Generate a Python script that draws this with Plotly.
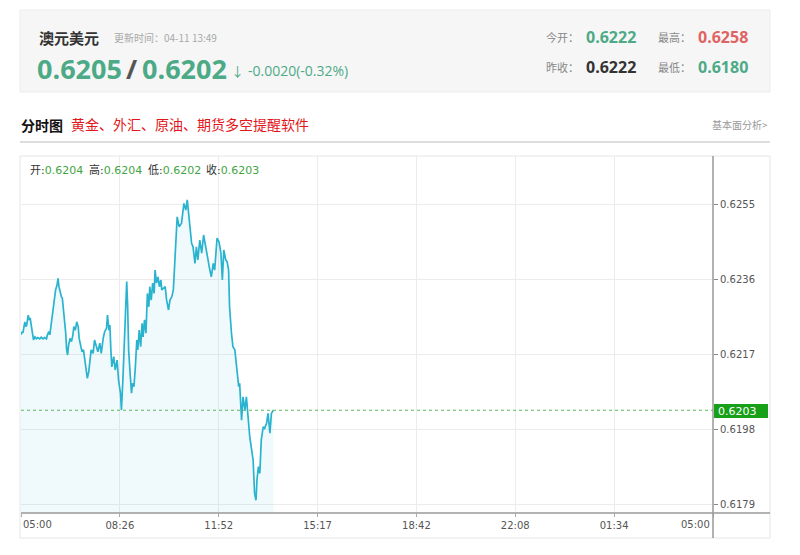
import plotly.graph_objects as go

# ---------------- data ----------------
date0 = "2025-04-11"
date1 = "2025-04-12"
times = ["05:00","05:02","05:04","05:08","05:10","05:12","05:15","05:17","05:19","05:21",
         "05:24","05:26","05:29","05:32","05:35","05:39","05:42","05:46","05:49","05:53",
         "05:55","05:58","06:00","06:03","06:05","06:07","06:10","06:12","06:15","06:17",
         "06:19","06:21","06:24","06:26","06:29","06:31","06:33","06:35","06:37","06:39",
         "06:42","06:45","06:48","06:50","06:53","06:56","06:59","07:01","07:04","07:07",
         "07:10","07:13","07:15","07:18","07:21","07:23","07:26","07:30","07:33","07:37",
         "07:40","07:44","07:47","07:51","07:54","07:58","08:00","08:03","08:05","08:07",
         "08:09","08:13","08:16","08:20","08:23","08:27","08:29","08:32","08:34","08:37",
         "08:40","08:42","08:44","08:47","08:50","08:52","08:55","08:58","09:01","09:03",
         "09:06","09:09","09:12","09:14","09:17","09:20","09:23","09:26","09:28","09:31",
         "09:34","09:37","09:39","09:42","09:45","09:48","09:51","09:53","10:00","10:03",
         "10:07","10:10","10:14","10:17","10:21","10:23","10:25","10:29","10:34","10:39",
         "10:43","10:46","10:50","10:55","10:58","11:02","11:05","11:08","11:12","11:16",
         "11:20","11:25","11:29","11:33","11:36","11:40","11:43","11:48","11:52","11:56",
         "11:59","12:02","12:06","12:09","12:12","12:14","12:18","12:21","12:25","12:30",
         "12:33","12:35","12:39","12:42","12:46","12:49","12:53","12:56","13:00","13:03",
         "13:06","13:09","13:11","13:14","13:17","13:20","13:24","13:27","13:31","13:34",
         "13:38","13:41","13:45"]
prices = [0.62221,0.62229,0.62226,0.62254,0.62242,0.62246,0.62271,0.62259,0.62264,0.62246,
          0.62229,0.62208,0.62216,0.62211,0.62214,0.62211,0.62215,0.62211,0.62214,0.62211,
          0.62221,0.62229,0.62221,0.62251,0.62267,0.62284,0.62318,0.62335,0.62347,0.62364,
          0.62343,0.62330,0.62318,0.62314,0.62280,0.62263,0.62226,0.62183,0.62170,0.62195,
          0.62212,0.62204,0.62221,0.62242,0.62233,0.62254,0.62242,0.62212,0.62195,0.62178,
          0.62183,0.62157,0.62140,0.62111,0.62128,0.62157,0.62183,0.62174,0.62208,0.62191,
          0.62178,0.62200,0.62174,0.62212,0.62229,0.62238,0.62271,0.62233,0.62246,0.62183,
          0.62140,0.62166,0.62132,0.62157,0.62107,0.62073,0.62031,0.62107,0.62183,0.62267,
          0.62356,0.62292,0.62183,0.62124,0.62073,0.62098,0.62090,0.62140,0.62208,0.62183,
          0.62233,0.62191,0.62250,0.62216,0.62259,0.62225,0.62326,0.62292,0.62343,0.62309,
          0.62352,0.62326,0.62385,0.62352,0.62368,0.62343,0.62360,0.62335,0.62343,0.62309,
          0.62284,0.62309,0.62318,0.62335,0.62444,0.62487,0.62520,0.62495,0.62504,0.62554,
          0.62537,0.62563,0.62504,0.62453,0.62444,0.62402,0.62444,0.62411,0.62461,0.62428,
          0.62474,0.62436,0.62411,0.62385,0.62368,0.62402,0.62385,0.62466,0.62457,0.62428,
          0.62360,0.62436,0.62411,0.62406,0.62385,0.62292,0.62225,0.62191,0.62183,0.62124,
          0.62090,0.62098,0.62005,0.62064,0.62031,0.62064,0.62005,0.61963,0.61929,0.61904,
          0.61820,0.61802,0.61853,0.61887,0.61870,0.61955,0.61988,0.61984,0.61997,0.62022,
          0.61972,0.62022,0.62030]

y_ticks = [0.6179, 0.6198, 0.6217, 0.6236, 0.6255]
y_ticktext = ["0.6179", "0.6198", "0.6217", "0.6236", "0.6255"]
x_tickvals = [date0 + " 05:00:00", date0 + " 08:25:43", date0 + " 11:51:26", date0 + " 15:17:09",
              date0 + " 18:42:51", date0 + " 22:08:34", date1 + " 01:34:17", date1 + " 05:00:00"]
x_ticktext = ["05:00", "08:26", "11:52", "15:17", "18:42", "22:08", "01:34", "05:00"]
y_range = [0.617697, 0.626741]

last_price = 0.6203
ohlc_labels = ["开:", "高:", "低:", "收:"]
ohlc_values = ["0.6204", "0.6204", "0.6202", "0.6203"]

name = "澳元美元"
update_time = "更新时间：04-11 13:49"
bid, ask = "0.6205", "0.6202"
change_text = "-0.0020(-0.32%)"
open_today, prev_close, high, low = "0.6222", "0.6222", "0.6258", "0.6180"

# ---------------- styling helpers (pixel -> paper) ----------------
L, R, T, B = 21, 713, 156, 513
def X(px):
    return (px - L) / (R - L)
def Y(py):
    return (B - py) / (B - T)

GREEN = "#4daa86"
CJK = "Noto Sans CJK SC"
NUM = "Open Sans, Noto Sans CJK SC"

x_full = [date0 + " " + t for t in times]

fig = go.Figure()
fig.add_trace(go.Scatter(
    x=x_full, y=prices, mode="lines",
    line=dict(color="#2ab3cf", width=1.7),
    fill="tozeroy", fillcolor="rgba(42,179,207,0.07)",
    hoverinfo="skip", showlegend=False))

shapes = []
# header box
shapes.append(dict(type="rect", xref="paper", yref="paper", x0=X(20), x1=X(770), y0=Y(92), y1=Y(10),
                   fillcolor="#f6f6f6", line=dict(color="#ececec", width=1), layer="below"))
# separator under title row
shapes.append(dict(type="line", xref="paper", yref="paper", x0=X(20), x1=X(770), y0=Y(142), y1=Y(142),
                   line=dict(color="#dddddd", width=2)))
# chart panel border
shapes.append(dict(type="rect", xref="paper", yref="paper", x0=X(20), x1=X(770), y0=Y(538), y1=Y(156),
                   line=dict(color="#e6e6e6", width=1), layer="below"))
# axis lines
shapes.append(dict(type="line", xref="paper", yref="paper", x0=X(713), x1=X(713), y0=Y(538), y1=Y(156),
                   line=dict(color="#999999", width=1.5)))
shapes.append(dict(type="line", xref="paper", yref="paper", x0=X(21), x1=X(770), y0=Y(513), y1=Y(513),
                   line=dict(color="#999999", width=1.5)))
# last price dotted line
shapes.append(dict(type="line", xref="paper", yref="y", x0=0, x1=1, y0=last_price, y1=last_price,
                   line=dict(color="#5cb85c", width=1, dash="dot")))
# last price label box
shapes.append(dict(type="rect", xref="paper", yref="paper", x0=X(714), x1=X(768), y0=Y(418), y1=Y(404),
                   fillcolor="#18a018", line=dict(width=0)))

ann = []
def txt(text, px, py, size, color, family=CJK, anchor="left"):
    ann.append(dict(text=text, x=X(px), y=Y(py), xref="paper", yref="paper", xanchor=anchor,
                    yanchor="middle", showarrow=False, font=dict(size=size, color=color, family=family)))

# header
txt("<b>" + name + "</b>", 37, 37, 15, "#333333")
txt(update_time, 112, 37, 10, "#a8a8a8")
txt("<b>" + bid + "</b>", 35, 68, 27, GREEN, NUM)
txt("<b>/</b>", 124, 68, 27, "#555555", NUM)
txt("<b>" + ask + "</b>", 140, 68, 27, GREEN, NUM)
txt("↓", 229, 71, 13, GREEN, NUM)
txt(change_text, 246, 71, 14, GREEN, NUM)
txt("今开：", 544, 37, 11, "#888888")
txt("<b>" + open_today + "</b>", 584, 37, 16, GREEN, NUM)
txt("最高：", 656, 37, 11, "#888888")
txt("<b>" + high + "</b>", 696, 37, 16, "#e06363", NUM)
txt("昨收：", 544, 67, 11, "#888888")
txt("<b>" + prev_close + "</b>", 584, 67, 16, "#333333", NUM)
txt("最低：", 656, 67, 11, "#888888")
txt("<b>" + low + "</b>", 696, 67, 16, GREEN, NUM)

# title row
txt("<b>分时图</b>", 19, 125, 14, "#111111")
txt("黄金、外汇、原油、期货多空提醒软件", 69, 124, 14, "#e3161b")
txt("基本面分析>", 770, 124, 10, "#999999", anchor="right")

# OHLC info row
ox = [28, 87, 146, 204]
for lab, val, px in zip(ohlc_labels, ohlc_values, ox):
    txt(lab + "<span style='color:#3fa63f'>" + val + "</span>", px, 170, 11, "#333333",
        family="DejaVu Sans, Noto Sans CJK SC")

# last price label text
txt(f"{last_price:.4f}", 716, 411, 11, "white", family="DejaVu Sans")

# edge x labels
txt(x_ticktext[0], 21, 524, 10, "#555555", family="DejaVu Sans")
txt(x_ticktext[-1], 712, 524, 10, "#555555", family="DejaVu Sans", anchor="right")

mid_text = [""] + x_ticktext[1:-1] + [""]

fig.update_layout(
    width=800, height=555,
    margin=dict(l=L, r=800 - R, t=T, b=555 - B, autoexpand=False),
    paper_bgcolor="white", plot_bgcolor="white",
    font=dict(family="DejaVu Sans, Noto Sans CJK SC", size=10, color="#555555"),
    showlegend=False,
    shapes=shapes, annotations=ann,
    xaxis=dict(type="date", range=[x_tickvals[0], x_tickvals[-1]],
               tickvals=x_tickvals, ticktext=mid_text,
               showgrid=True, gridcolor="#ececec", gridwidth=1,
               ticks="outside", ticklen=3, tickcolor="#aaaaaa",
               showline=False, zeroline=False, fixedrange=True,
               tickfont=dict(size=10, color="#555555", family="DejaVu Sans")),
    yaxis=dict(side="right", range=y_range, tickvals=y_ticks, ticktext=y_ticktext,
               showgrid=True, gridcolor="#ececec", gridwidth=1,
               ticks="outside", ticklen=4, tickcolor="#888888",
               showline=False, zeroline=False, fixedrange=True,
               tickfont=dict(size=10, color="#555555", family="DejaVu Sans")),
)

fig.write_html("out.html", config={"displayModeBar": False},
               post_script="document.body.style.margin='0px';document.body.style.overflow='hidden';")
